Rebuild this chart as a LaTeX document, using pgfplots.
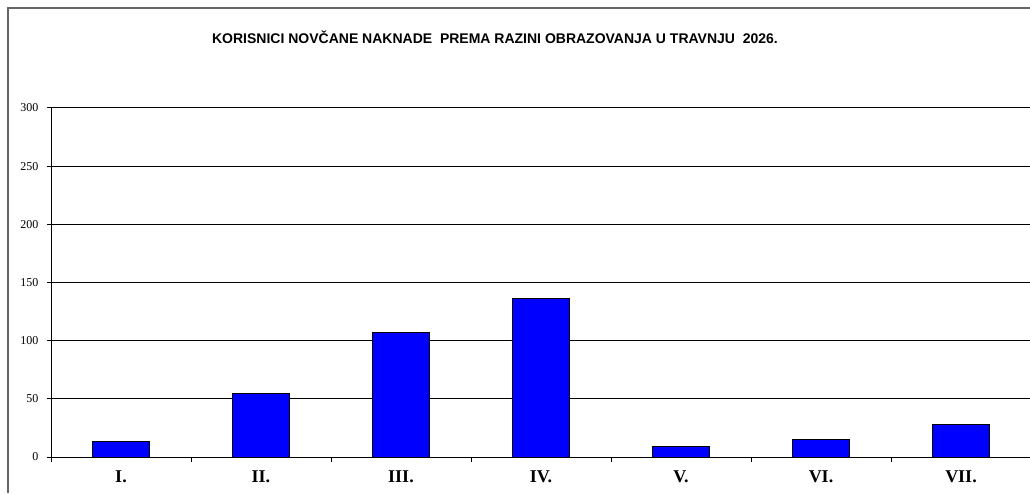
\documentclass[border=0pt]{standalone}
\usepackage{fontspec}
\setmainfont{Liberation Serif}
\newfontfamily\arial{Liberation Sans}
\usepackage{pgfplots}
\pgfplotsset{compat=1.18}
\definecolor{barblue}{RGB}{0,0,255}
\begin{document}
\begin{tikzpicture}
\path[use as bounding box] (-38.25pt,-27pt) rectangle (734.25pt,342.75pt);
\draw[gray!80!black, line width=1.5pt] (-32.25pt,-27pt) -- (-32.25pt,336.75pt) -- (734.25pt,336.75pt);
\node[font=\arial\bfseries\fontsize{10.5}{12}\selectfont] at (333pt,314.5pt) {KORISNICI NOVČANE NAKNADE\ \ PREMA RAZINI OBRAZOVANJA U TRAVNJU\ \ 2026.};
\begin{axis}[
  at={(0pt,0pt)}, anchor=south west,
  scale only axis, width=735pt, height=261.75pt,
  xmin=-0.5, xmax=6.5, ymin=0, ymax=300,
  axis lines*=left, axis line style={-, line width=0.75pt},
  ybar, bar width=42.75pt,
  xtick={0,...,6}, xticklabels={I.,II.,III.,IV.,V.,VI.,VII.},
  major x tick style={draw=none},
  minor xtick={-0.5,0.5,1.5,2.5,3.5,4.5,5.5,6.5},
  ytick={0,50,...,300},
  tick align=outside,
  major tick length=3pt, minor tick length=4pt,
  tick style={black, line width=0.75pt},
  ymajorgrids, major grid style={black, line width=0.75pt},
  /pgf/number format/assume math mode=true,
  yticklabel style={font=\fontsize{9}{10}\selectfont, xshift=-3pt},
  xticklabel style={font=\bfseries\fontsize{13.5}{14}\selectfont, yshift=-3.75pt},
]
\addplot[fill=barblue, draw=black, line width=0.75pt] coordinates {(0,13) (1,55) (2,107) (3,136) (4,9) (5,15) (6,28)};
\end{axis}
\end{tikzpicture}
\end{document}
